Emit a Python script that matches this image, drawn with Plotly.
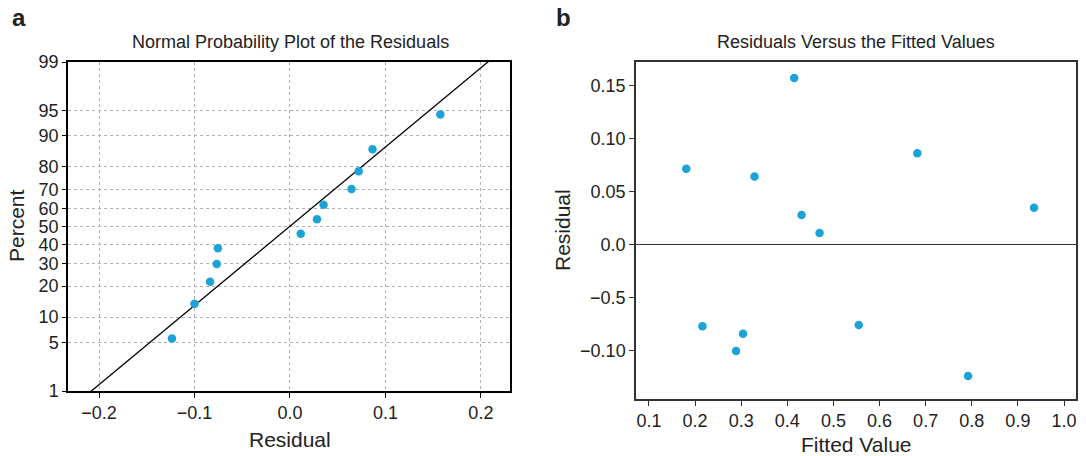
import plotly.graph_objects as go
from statistics import NormalDist, mean, stdev

# Data
fitted = [0.181, 0.216, 0.289, 0.304, 0.329, 0.415, 0.431, 0.470, 0.555, 0.682, 0.792, 0.935]
residuals = [0.0720, -0.0767, -0.1000, -0.0837, 0.0645, 0.1575, 0.0283, 0.0113, -0.0755, 0.0865, -0.1236, 0.0352]
percent_ticks = [1, 5, 10, 20, 30, 40, 50, 60, 70, 80, 90, 95, 99]
left_x_ticks = [-0.2, -0.1, 0.0, 0.1, 0.2]
right_x_ticks = [0.1, 0.2, 0.3, 0.4, 0.5, 0.6, 0.7, 0.8, 0.9, 1.0]
right_y_ticks = [0.15, 0.10, 0.05, 0.0, -0.05, -0.10]
right_y_labels = ["0.15", "0.10", "0.05", "0.0", "\u22120.5", "\u22120.10"]

nd = NormalDist()
n = len(residuals)
sorted_res = sorted(residuals)
plot_pos = [(i + 1 - 0.3) / (n + 0.4) for i in range(n)]
z_pts = [nd.inv_cdf(p) for p in plot_pos]
z_ticks = [nd.inv_cdf(p / 100) for p in percent_ticks]
mu, sd = mean(residuals), stdev(residuals)
z_lo, z_hi = nd.inv_cdf(0.01), nd.inv_cdf(0.99)
line_z = [z_lo - 0.2, z_hi + 0.2]
line_x = [mu + sd * z for z in line_z]

marker_color = "#1BA3D8"
txt = "#222222"
font_family = "Arial, 'Liberation Sans', sans-serif"

W, H = 1086, 456
ML, MR, MT, MB = 40, 6, 40, 40
PW, PH = W - ML - MR, H - MT - MB


def dx(px):
    return (px - ML) / PW


def dy(py):
    return (H - MB - py) / PH


fig = go.Figure()
fig.add_trace(go.Scatter(x=line_x, y=line_z, mode="lines", line=dict(color="black", width=1.3),
                         xaxis="x", yaxis="y", showlegend=False, cliponaxis=True))
fig.add_trace(go.Scatter(x=sorted_res, y=z_pts, mode="markers",
                         marker=dict(color=marker_color, size=8.5), xaxis="x", yaxis="y", showlegend=False))
fig.add_trace(go.Scatter(x=fitted, y=residuals, mode="markers",
                         marker=dict(color=marker_color, size=8.5), xaxis="x2", yaxis="y2", showlegend=False))

fig.update_layout(
    width=W, height=H,
    margin=dict(l=ML, r=MR, t=MT, b=MB, autoexpand=False),
    paper_bgcolor="white", plot_bgcolor="white",
    font=dict(family=font_family, color=txt),
    xaxis=dict(domain=[dx(68), dx(510)], range=[-0.2325, 0.2305], automargin=False,
               tickvals=left_x_ticks, tickformat=".1f", ticks="outside", ticklen=5,
               tickcolor="black", tickfont=dict(size=18, color=txt),
               showline=True, linecolor="black", linewidth=1.5, mirror=True,
               showgrid=True, gridcolor="#B0B0B0", griddash="dot", gridwidth=1, zeroline=False,
               anchor="y"),
    yaxis=dict(domain=[dy(391), dy(62)], range=[z_lo, z_hi], automargin=False,
               tickvals=z_ticks, ticktext=[str(p) for p in percent_ticks],
               ticks="outside", ticklen=4, tickcolor="black", tickfont=dict(size=18, color=txt),
               showline=True, linecolor="black", linewidth=1.5, mirror=True,
               showgrid=True, gridcolor="#B0B0B0", griddash="dot", gridwidth=1, zeroline=False,
               anchor="x"),
    xaxis2=dict(domain=[dx(636), dx(1076)], range=[0.072, 1.026], automargin=False,
                tickvals=right_x_ticks, tickformat=".1f", ticks="outside", ticklen=5,
                tickcolor="#333333", tickfont=dict(size=18, color=txt),
                showline=True, linecolor="#333333", linewidth=1.5, mirror=True,
                showgrid=False, zeroline=False, anchor="y2"),
    yaxis2=dict(domain=[dy(399), dy(62)], range=[-0.1453, 0.1726], automargin=False,
                tickvals=right_y_ticks, ticktext=right_y_labels,
                ticks="outside", ticklen=5, tickcolor="#333333", tickfont=dict(size=18, color=txt),
                showline=True, linecolor="#333333", linewidth=1.5, mirror=True,
                showgrid=False, zeroline=True, zerolinecolor="#333333", zerolinewidth=1.3,
                anchor="x2"),
)

annotations = [
    dict(text="<b>a</b>", x=10, y=18, size=24, anchor="left", angle=0),
    dict(text="<b>b</b>", x=554, y=18, size=24, anchor="left", angle=0),
    dict(text="Normal Probability Plot of the Residuals", x=290, y=42, size=18, anchor="center", angle=0),
    dict(text="Residuals Versus the Fitted Values", x=856, y=42, size=18, anchor="center", angle=0),
    dict(text="Residual", x=290, y=439, size=21, anchor="center", angle=0),
    dict(text="Fitted Value", x=856, y=444, size=21, anchor="center", angle=0),
    dict(text="Percent", x=16, y=226, size=21, anchor="center", angle=-90),
    dict(text="Residual", x=563, y=230, size=21, anchor="center", angle=-90),
]
for a in annotations:
    fig.add_annotation(text=a["text"], x=dx(a["x"]), y=dy(a["y"]), xref="paper", yref="paper",
                       showarrow=False, xanchor=a["anchor"], yanchor="middle", textangle=a["angle"],
                       font=dict(size=a["size"], color=txt, family=font_family))

fig.write_html("out.html", config={"displayModeBar": False},
               post_script="document.body.style.margin='0';document.body.style.overflow='hidden';")
